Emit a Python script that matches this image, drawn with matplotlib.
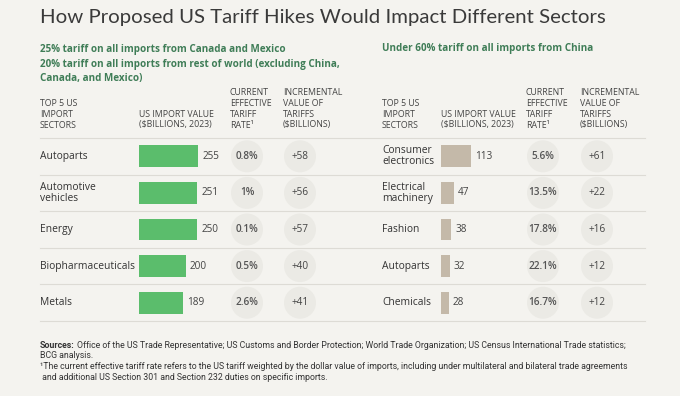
import matplotlib
matplotlib.use("Agg")
import matplotlib.pyplot as plt
from matplotlib.patches import Circle

# data
left_sectors = ["Autoparts", "Automotive\nvehicles", "Energy", "Biopharmaceuticals", "Metals"]
left_values = [255, 251, 250, 200, 189]
left_rates = ["0.8%", "1%", "0.1%", "0.5%", "2.6%"]
left_incr = ["+58", "+56", "+57", "+40", "+41"]

right_sectors = ["Consumer\nelectronics", "Electrical\nmachinery", "Fashion", "Autoparts", "Chemicals"]
right_values = [113, 47, 38, 32, 28]
right_rates = ["5.6%", "13.5%", "17.8%", "22.1%", "16.7%"]
right_incr = ["+61", "+22", "+16", "+12", "+12"]

title = "How Proposed US Tariff Hikes Would Impact Different Sectors"
left_sub = ("25% tariff on all imports from Canada and Mexico\n"
            "20% tariff on all imports from rest of world (excluding China,\n"
            "Canada, and Mexico)")
right_sub = "Under 60% tariff on all imports from China"
headers = ["TOP 5 US\nIMPORT\nSECTORS", "US IMPORT VALUE\n($BILLIONS, 2023)",
           "CURRENT\nEFFECTIVE\nTARIFF\nRATE¹", "INCREMENTAL\nVALUE OF\nTARIFFS\n($BILLIONS)"]
src_line = ("Office of the US Trade Representative; US Customs and Border Protection; "
            "World Trade Organization; US Census International Trade statistics;")
note = ("¹The current effective tariff rate refers to the US tariff weighted by the dollar value of imports, "
        "including under multilateral and bilateral trade agreements\n and additional US Section 301 and "
        "Section 232 duties on specific imports.")

BG = "#f4f3ef"
TXT = "#333333"
GREEN_T = "#3f7d57"
BODY = "Open Sans"
FOOT = "Roboto"

W, H = 680, 396
fig = plt.figure(figsize=(W / 100, H / 100), dpi=100, facecolor=BG)
ax = fig.add_axes([0, 0, 1, 1])
ax.set_xlim(0, W)
ax.set_ylim(H, 0)
ax.axis("off")
rend = fig.canvas.get_renderer()


def fit(t, target):
    # shrink/grow text so its width matches the reference
    w = t.get_window_extent(rend).width
    t.set_fontsize(t.get_fontsize() * target / w)


t = ax.text(40, 17, title, fontsize=15, family="Lato", color="#3a3a3a", va="center")
fit(t, 567)
t = ax.text(40, 64, left_sub, fontsize=7.6, family=BODY, fontweight="bold", color=GREEN_T,
            va="center", linespacing=1.4)
fit(t, 300)
ax.text(382, 49, right_sub, fontsize=t.get_fontsize(), family=BODY, fontweight="bold",
        color=GREEN_T, va="center")

row_top = 138
row_h = 36.6

# separator lines
for k in range(6):
    y = row_top + k * row_h
    ax.plot([40, 645], [y, y], color="#dddbd5", lw=0.8)


def panel(x0, xbar, xrate, xinc, sectors, values, rates, incr, color, scale):
    hx = [x0, xbar, xrate - 17, xinc - 17]
    for h, x in zip(headers, hx):
        ax.text(x, 129.5, h, fontsize=6.3, family=BODY, color="#444444", va="bottom", linespacing=1.25)
    for i in range(5):
        yc = row_top + (i + 0.5) * row_h
        ax.text(x0, yc, sectors[i], fontsize=7.4, family=BODY, color=TXT, va="center", linespacing=1.0)
        ax.add_patch(Circle((xrate, yc), 16, color="#ebeae5", lw=0))
        ax.add_patch(Circle((xinc, yc), 16, color="#ebeae5", lw=0))
        ax.text(xrate, yc, rates[i], fontsize=7.2, family=BODY, fontweight="semibold", color="#555555",
                ha="center", va="center")
        ax.text(xinc, yc, incr[i], fontsize=7.2, family=BODY, color="#444444", ha="center", va="center")
    # bar axes using its own scale
    bw = 300 * scale
    bax = fig.add_axes([xbar / W, 1 - (row_top + 5 * row_h) / H, bw / W, 5 * row_h / H])
    bax.set_xlim(0, 300)
    bax.set_ylim(4.5, -0.5)
    bax.axis("off")
    bax.barh(range(5), values, height=0.6, color=color)
    for i, v in enumerate(values):
        bax.text(v + 4 / scale, i, str(v), fontsize=7.2, family=BODY, color="#444444", va="center")


panel(40, 139, 247, 300, left_sectors, left_values, left_rates, left_incr, "#5bbd6c", 0.2325)
panel(382, 441, 543, 597, right_sectors, right_values, right_rates, right_incr, "#c4b9a9", 0.268)

# footnotes
fs = 6
s1 = ax.text(40, 345, "Sources:", fontsize=fs, family=FOOT, fontweight="bold", color=TXT, va="center")
s2 = ax.text(40, 345, src_line, fontsize=fs, family=FOOT, color=TXT, va="center")
sw = s1.get_window_extent(rend).width
rw = s2.get_window_extent(rend).width
k = 592 / (sw + 3 + rw)
fs = fs * k
s1.set_fontsize(fs)
s2.set_fontsize(fs)
s2.set_x(40 + s1.get_window_extent(rend).width + 2.5)
ax.text(40, 356, "BCG analysis.", fontsize=fs, family=FOOT, color=TXT, va="center")
ax.text(40, 372, note, fontsize=fs, family=FOOT, color=TXT, va="center", linespacing=1.4)

fig.savefig("out.png", dpi=100, facecolor=BG)
